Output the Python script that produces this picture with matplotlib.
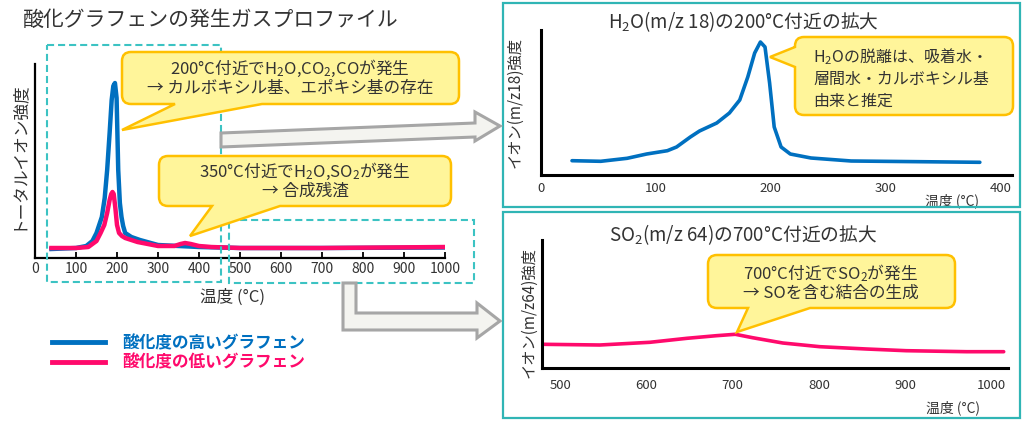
import matplotlib
matplotlib.use("Agg")
import matplotlib.pyplot as plt
from matplotlib.path import Path
from matplotlib.patches import PathPatch, Rectangle, Polygon

plt.rcParams['font.family'] = ['Noto Sans CJK JP', 'DejaVu Sans']
plt.rcParams['mathtext.fontset'] = 'custom'
plt.rcParams['mathtext.rm'] = 'Noto Sans CJK JP'
plt.rcParams['mathtext.it'] = 'Noto Sans CJK JP'
plt.rcParams['mathtext.bf'] = 'Noto Sans CJK JP:bold'

# 全体プロファイル (温度 °C, 強度 任意単位)
temp_high = [40, 100, 125, 140, 150, 163, 170, 176, 182, 187, 191, 195, 199, 203,
             207, 211, 215, 220, 235, 256, 300, 350, 400, 500, 700, 1000]
ion_high = [9, 10, 12, 17, 25, 41, 60, 88, 125, 158, 172, 175, 160, 88,
            55, 41, 32, 25, 21, 18, 13, 12, 11, 10, 10, 10.5]
temp_low = [40, 100, 130, 150, 160, 169, 176, 182, 186, 189, 192, 196, 200, 205,
            212, 220, 250, 300, 340, 355, 366, 380, 400, 430, 500, 700, 1000]
ion_low = [10, 10, 11, 17, 25, 33, 45, 58, 64, 66, 64, 50, 33, 25,
           22, 20, 16, 12, 12, 14, 15, 14, 12, 11, 10, 10, 11]

# H2O (m/z 18)
temp_h2o = [27, 52, 75, 92, 110, 118, 130, 138, 153, 164, 173, 180, 186, 191,
            195, 199, 203, 209, 217, 235, 270, 382]
ion_h2o = [14.3, 13.7, 16.7, 21, 24.3, 28, 38, 44, 52, 62, 75, 98, 122, 133,
           128, 92, 48, 28, 21, 17, 14, 12.7]

# SO2 (m/z 64)
temp_so2 = [480, 546, 604, 647, 681, 703, 723, 758, 801, 855, 901, 971, 1014]
ion_so2 = [23.7, 23, 25.7, 29.7, 32.3, 33.7, 30.3, 25, 21.3, 19, 17.3, 16.3, 16.3]

ticks_main = list(range(0, 1001, 100))
ticks_h2o = [0, 100, 200, 300, 400]
ticks_so2 = [500, 600, 700, 800, 900, 1000]

labels_legend = ['酸化度の高いグラフェン', '酸化度の低いグラフェン']

BLUE = '#0070c0'
PINK = '#ff0a6c'
TXT = '#333333'
CYAN = '#3cc3c3'
FILL = '#fff59a'
EDGE = '#ffc000'

W, H = 1024, 425
fig = plt.figure(figsize=(W / 100, H / 100), dpi=100)


def px_axes(x0, y0, x1, y1):
    # 画素座標 (左上原点) から axes を作る
    return fig.add_axes([x0 / W, 1 - y1 / H, (x1 - x0) / W, (y1 - y0) / H])


def style(ax, lw):
    for s in ['top', 'right']:
        ax.spines[s].set_visible(False)
    for s in ['left', 'bottom']:
        ax.spines[s].set_linewidth(lw)
        ax.spines[s].set_color('black')
    ax.set_yticks([])
    ax.patch.set_alpha(0)


# --- メインのグラフ
ax = px_axes(35, 64, 445, 258)
style(ax, 1.6)
l1, = ax.plot(temp_high, ion_high, color=BLUE, lw=3.2, solid_joinstyle='round')
l2, = ax.plot(temp_low, ion_low, color=PINK, lw=3.2, solid_joinstyle='round')
ax.set_xlim(0, 1000)
ax.set_ylim(0, 194)
ax.set_xticks(ticks_main)
ax.tick_params(axis='x', direction='in', length=4, width=1.3, pad=3,
               labelsize=10, labelcolor=TXT)
ax.set_xlabel('温度 (°C)', fontsize=12, color=TXT)
ax.xaxis.set_label_coords((232 - 35) / 410, (258 - 289) / 194)
ax.set_ylabel('トータルイオン強度', fontsize=12, color=TXT)
ax.yaxis.set_label_coords((26 - 35) / 410, 0.53)

# --- H2O 拡大
ax2 = px_axes(541, 30, 1012, 175)
style(ax2, 2.2)
ax2.plot(temp_h2o, ion_h2o, color=BLUE, lw=2.6, solid_joinstyle='round',
         solid_capstyle='round')
ax2.set_xlim(0, 410)
ax2.set_ylim(0, 145)
ax2.set_xticks(ticks_h2o)
ax2.tick_params(axis='x', length=0, pad=5, labelsize=9.5, labelcolor=TXT)
ax2.set_xlabel('温度 (°C)', fontsize=10, color=TXT)
ax2.xaxis.set_label_coords((952 - 541) / 471, (175 - 193) / 145)
ax2.set_ylabel('イオン(m/z18)強度', fontsize=11, color=TXT)
ax2.yaxis.set_label_coords((523 - 541) / 471, 0.5)

# --- SO2 拡大
ax3 = px_axes(542, 240, 1008, 368)
style(ax3, 2.2)
ax3.plot(temp_so2, ion_so2, color=PINK, lw=2.6, solid_joinstyle='round',
         solid_capstyle='round')
ax3.set_xlim(479, 1019)
ax3.set_ylim(0, 128)
ax3.set_xticks(ticks_so2)
ax3.tick_params(axis='x', length=0, pad=8, labelsize=9.5, labelcolor=TXT)
ax3.set_xlabel('温度 (°C)', fontsize=10, color=TXT)
ax3.xaxis.set_label_coords((953 - 542) / 466, (368 - 400) / 128)
ax3.set_ylabel('イオン(m/z64)強度', fontsize=11, color=TXT)
ax3.yaxis.set_label_coords((537 - 542) / 466, 0.43)

# --- 凡例
leg = ax.legend([l1, l2], labels_legend, loc='upper left',
                bbox_to_anchor=(52 / W, 1 - 334 / H), bbox_transform=fig.transFigure,
                frameon=False, handlelength=3.2, handletextpad=1.0,
                labelspacing=0.1, borderpad=0, borderaxespad=0,
                prop={'size': 12, 'weight': 'bold'})
for t, c in zip(leg.get_texts(), [BLUE, PINK]):
    t.set_color(c)
for h in leg.legend_handles:
    h.set_linewidth(3.5)

# --- 重ね描き用 (画素座標)
ov = fig.add_axes([0, 0, 1, 1], zorder=5)
ov.set_xlim(0, W)
ov.set_ylim(H, 0)
ov.axis('off')


def bubble(x0, y0, x1, y1, side, b, tip, r=9):
    M, L, C = Path.MOVETO, Path.LINETO, Path.CURVE3
    v = [(x0 + r, y0), (x1 - r, y0), (x1, y0), (x1, y0 + r), (x1, y1 - r),
         (x1, y1), (x1 - r, y1)]
    c = [M, L, C, C, L, C, C]
    if side == 'bottom':
        v += [(max(b), y1), tip, (min(b), y1)]
        c += [L, L, L]
    v += [(x0 + r, y1), (x0, y1), (x0, y1 - r)]
    c += [L, C, C]
    if side == 'left':
        v += [(x0, max(b)), tip, (x0, min(b))]
        c += [L, L, L]
    v += [(x0, y0 + r), (x0, y0), (x0 + r, y0), (x0 + r, y0)]
    c += [L, C, C, Path.CLOSEPOLY]
    ov.add_patch(PathPatch(Path(v, c), facecolor=FILL, edgecolor=EDGE, lw=1.8,
                           zorder=4))


# 点線の枠
for (x0, y0, x1, y1) in [(47, 45, 221, 282), (229, 220, 474, 283)]:
    ov.add_patch(Rectangle((x0, y0), x1 - x0, y1 - y0, fill=False, edgecolor=CYAN,
                           lw=1.5, linestyle=(0, (3.4, 1.9)), zorder=2))

# 右側パネルの枠
for (x0, y0, x1, y1) in [(503, 3, 1020, 207), (503, 212, 1020, 418)]:
    ov.add_patch(Rectangle((x0, y0), x1 - x0, y1 - y0, fill=False, edgecolor='#30b5b5',
                           lw=1.6, zorder=2))

# 矢印
arrow_fc, arrow_ec = '#f4f4f0', '#a6a6a6'
ov.add_patch(Polygon([(221, 133), (475, 123), (475, 112), (500, 126), (475, 141),
                      (475, 137), (221, 147)], closed=True, facecolor=arrow_fc,
                     edgecolor=arrow_ec, lw=2.2, zorder=3))
ov.add_patch(Polygon([(343, 283), (356, 283), (356, 313), (477, 313), (477, 303),
                      (500, 321), (477, 338), (477, 330), (343, 330)], closed=True,
                     facecolor=arrow_fc, edgecolor=arrow_ec, lw=2.2, zorder=3))

# 吹き出し
bubble(122, 52, 459, 104, 'bottom', (175, 262), (122, 130))
bubble(159, 156, 451, 206, 'bottom', (212, 280), (190, 236))
bubble(795, 37, 1013, 115, 'left', (47, 67), (770, 57))
bubble(708, 255, 955, 308, 'bottom', (748, 810), (737, 332))

fs = 12
ov.text(290, 68, '200°C付近でH$_2$O,CO$_2$,COが発生', ha='center', va='center',
        fontsize=fs, color=TXT, zorder=6)
ov.text(290, 88, '→ カルボキシル基、エポキシ基の存在', ha='center', va='center',
        fontsize=fs, color=TXT, zorder=6)
ov.text(305, 171, '350°C付近でH$_2$O,SO$_2$が発生', ha='center', va='center',
        fontsize=fs, color=TXT, zorder=6)
ov.text(305, 191, '→ 合成残渣', ha='center', va='center',
        fontsize=fs, color=TXT, zorder=6)
ov.text(813, 57, 'H$_2$Oの脱離は、吸着水・', ha='left', va='center',
        fontsize=11.5, color=TXT, zorder=6)
ov.text(813, 79, '層間水・カルボキシル基', ha='left', va='center',
        fontsize=11.5, color=TXT, zorder=6)
ov.text(813, 101, '由来と推定', ha='left', va='center',
        fontsize=11.5, color=TXT, zorder=6)
ov.text(831, 273, '700°C付近でSO$_2$が発生', ha='center', va='center',
        fontsize=fs, color=TXT, zorder=6)
ov.text(831, 293, '→ SOを含む結合の生成', ha='center', va='center',
        fontsize=fs, color=TXT, zorder=6)

# タイトル
ov.text(23, 20, '酸化グラフェンの発生ガスプロファイル', ha='left', va='center',
        fontsize=15, color=TXT)
ov.text(743, 22, 'H$_2$O(m/z 18)の200°C付近の拡大', ha='center', va='center',
        fontsize=13.5, color=TXT)
ov.text(743, 235, 'SO$_2$(m/z 64)の700°C付近の拡大', ha='center', va='center',
        fontsize=13.5, color=TXT)

fig.savefig('out.png', dpi=100)
